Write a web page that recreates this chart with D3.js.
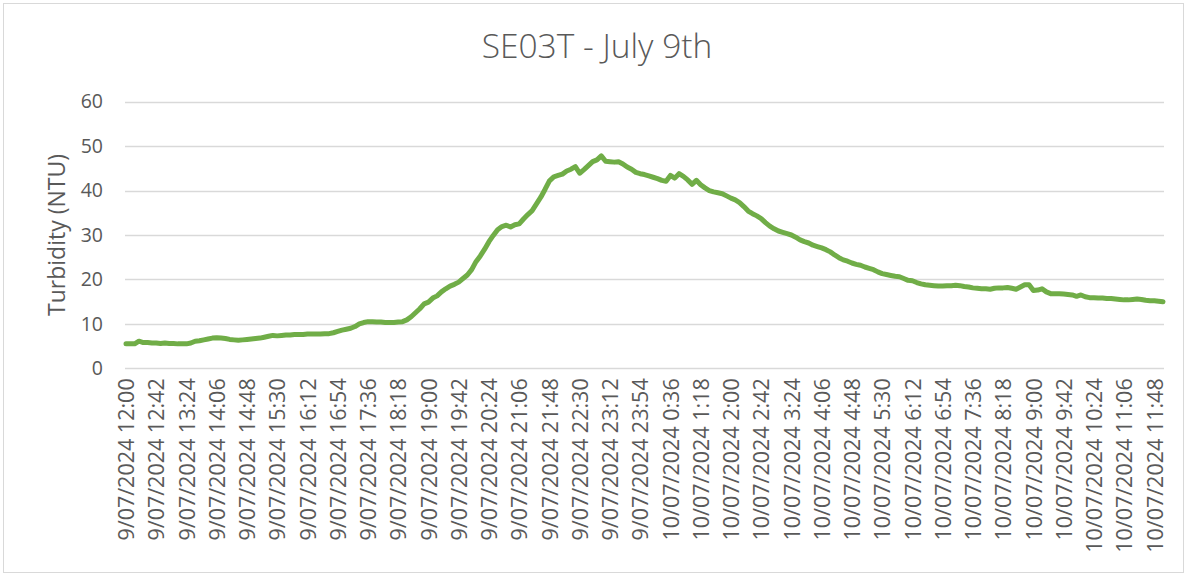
<!DOCTYPE html>
<html>
<head>
<meta charset="utf-8">
<script src="https://cdn.jsdelivr.net/npm/d3@7"></script>
<style>
  body { margin: 0; background: #fff; }
  text { font-family: "Open Sans", "Liberation Sans", sans-serif; fill: #595959; }
</style>
</head>
<body>
<svg id="chart"></svg>
<script>
// turbidity readings, one every 6 minutes, 9/07/2024 12:00 -> 10/07/2024 12:00
const turbidity = [
  5.5, 5.5, 5.5, 6.1, 5.8, 5.8, 5.7, 5.7, 5.6, 5.7,
  5.6, 5.6, 5.5, 5.5, 5.5, 5.7, 6.1, 6.2, 6.4, 6.6,
  6.8, 6.9, 6.8, 6.7, 6.5, 6.4, 6.3, 6.4, 6.5, 6.6,
  6.7, 6.8, 7.0, 7.2, 7.4, 7.3, 7.4, 7.5, 7.5, 7.6,
  7.6, 7.6, 7.7, 7.7, 7.7, 7.7, 7.8, 7.8, 8.0, 8.3,
  8.6, 8.8, 9.0, 9.4, 10.0, 10.3, 10.5, 10.5, 10.4, 10.4,
  10.3, 10.3, 10.3, 10.4, 10.5, 10.9, 11.6, 12.5, 13.4, 14.5,
  14.9, 15.8, 16.3, 17.2, 17.9, 18.5, 18.9, 19.4, 20.2, 21.0,
  22.2, 24.0, 25.3, 26.8, 28.5, 29.9, 31.2, 31.9, 32.2, 31.8,
  32.3, 32.5, 33.6, 34.6, 35.5, 37.0, 38.5, 40.3, 42.2, 43.1,
  43.4, 43.7, 44.4, 44.8, 45.4, 43.9, 44.7, 45.6, 46.5, 46.9,
  47.8, 46.6, 46.5, 46.4, 46.5, 46.0, 45.3, 44.8, 44.1, 43.8,
  43.6, 43.3, 43.0, 42.7, 42.3, 42.1, 43.4, 42.8, 43.8, 43.2,
  42.4, 41.4, 42.3, 41.3, 40.6, 40.0, 39.7, 39.5, 39.3, 38.8,
  38.3, 37.9, 37.3, 36.4, 35.4, 34.8, 34.3, 33.7, 32.8, 32.0,
  31.4, 30.9, 30.6, 30.3, 30.0, 29.5, 28.9, 28.5, 28.2, 27.7,
  27.4, 27.1, 26.7, 26.2, 25.5, 24.9, 24.4, 24.1, 23.7, 23.4,
  23.2, 22.8, 22.5, 22.2, 21.7, 21.3, 21.1, 20.9, 20.7, 20.6,
  20.2, 19.8, 19.7, 19.3, 19.0, 18.8, 18.7, 18.6, 18.5, 18.5,
  18.6, 18.6, 18.7, 18.6, 18.4, 18.3, 18.1, 18.0, 17.9, 17.9,
  17.8, 18.0, 18.1, 18.1, 18.2, 18.0, 17.8, 18.3, 18.8, 18.8,
  17.5, 17.6, 17.9, 17.2, 16.8, 16.8, 16.8, 16.7, 16.6, 16.5,
  16.2, 16.5, 16.1, 15.9, 15.9, 15.8, 15.8, 15.7, 15.7, 15.6,
  15.5, 15.4, 15.4, 15.5, 15.6, 15.5, 15.3, 15.2, 15.2, 15.1,
  15.0
];

// every 7th reading gets a label
const tickLabels = [
  "9/07/2024 12:00", "9/07/2024 12:42", "9/07/2024 13:24", "9/07/2024 14:06",
  "9/07/2024 14:48", "9/07/2024 15:30", "9/07/2024 16:12", "9/07/2024 16:54",
  "9/07/2024 17:36", "9/07/2024 18:18", "9/07/2024 19:00", "9/07/2024 19:42",
  "9/07/2024 20:24", "9/07/2024 21:06", "9/07/2024 21:48", "9/07/2024 22:30",
  "9/07/2024 23:12", "9/07/2024 23:54", "10/07/2024 0:36", "10/07/2024 1:18",
  "10/07/2024 2:00", "10/07/2024 2:42", "10/07/2024 3:24", "10/07/2024 4:06",
  "10/07/2024 4:48", "10/07/2024 5:30", "10/07/2024 6:12", "10/07/2024 6:54",
  "10/07/2024 7:36", "10/07/2024 8:18", "10/07/2024 9:00", "10/07/2024 9:42",
  "10/07/2024 10:24", "10/07/2024 11:06", "10/07/2024 11:48"
];
const labelStep = 7;

const yTicks = [0, 10, 20, 30, 40, 50, 60];

const w = 1187, h = 574;
const plot = { left: 125, right: 1164, top: 101.7, bottom: 368.3 };

const svg = d3.select("#chart")
  .attr("width", w)
  .attr("height", h);

// chart frame
svg.append("rect")
  .attr("x", 3.5).attr("y", 3.5)
  .attr("width", w - 7).attr("height", h - 5)
  .attr("fill", "#fff")
  .attr("stroke", "#d9d9d9");

let x = d3.scalePoint()
  .domain(d3.range(turbidity.length))
  .range([plot.left + 1, plot.right - 1]);

let y = d3.scaleLinear()
  .domain([0, 60])
  .range([plot.bottom, plot.top]);

// gridlines
svg.append("g")
  .selectAll("line")
  .data(yTicks)
  .enter()
  .append("line")
  .attr("x1", plot.left)
  .attr("x2", plot.right)
  .attr("y1", d => Math.round(y(d)) + 0.5)
  .attr("y2", d => Math.round(y(d)) + 0.5)
  .attr("stroke", "#d9d9d9")
  .attr("stroke-width", 1.3);

// y axis labels
let yAxis = svg.append("g")
  .attr("transform", `translate(${plot.left - 10},0)`)
  .call(d3.axisLeft(y).tickValues(yTicks).tickSize(0).tickPadding(12));
yAxis.select(".domain").remove();
yAxis.selectAll("text")
  .style("font-size", "19.5px")
  .attr("fill", "#595959");

// x axis labels, rotated
let labelIdx = tickLabels.map((t, i) => i * labelStep);
let xAxis = svg.append("g")
  .attr("transform", `translate(0,${plot.bottom})`)
  .call(d3.axisBottom(x).tickValues(labelIdx).tickSize(0)
    .tickFormat((d, i) => tickLabels[i]));
xAxis.select(".domain").remove();
xAxis.selectAll("text")
  .style("font-size", "21.5px")
  .attr("fill", "#595959")
  .attr("transform", "rotate(-90)")
  .attr("text-anchor", "end")
  .attr("x", -10)
  .attr("y", 0)
  .attr("dy", "0.36em");

// the series
let line = d3.line()
  .x((d, i) => x(i))
  .y(d => y(d));

svg.append("path")
  .datum(turbidity)
  .attr("d", line)
  .attr("fill", "none")
  .attr("stroke", "#70ad47")
  .attr("stroke-width", 5)
  .attr("stroke-linejoin", "round")
  .attr("stroke-linecap", "round");

// titles
svg.append("text")
  .attr("x", 597)
  .attr("y", 58)
  .attr("text-anchor", "middle")
  .style("font-size", "33.5px")
  .style("font-weight", 300)
  .text("SE03T - July 9th");

svg.append("text")
  .attr("transform", `translate(65,${(plot.top + plot.bottom) / 2}) rotate(-90)`)
  .attr("text-anchor", "middle")
  .style("font-size", "23px")
  .text("Turbidity (NTU)");
</script>
</body>
</html>
